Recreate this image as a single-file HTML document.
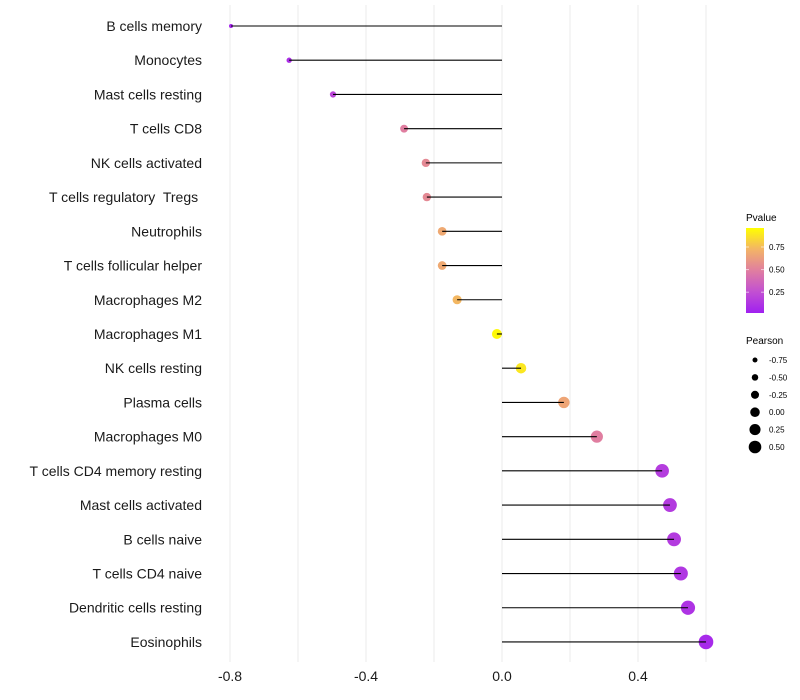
<!DOCTYPE html>
<html><head><meta charset="utf-8"><style>
html,body{margin:0;padding:0;background:#fff;}
svg{display:block;font-family:"Liberation Sans",sans-serif;}
text{white-space:pre;}
</style></head><body>
<svg id="chart" width="800" height="700" viewBox="0 0 800 700" xmlns="http://www.w3.org/2000/svg" xml:space="preserve">
<defs>
<linearGradient id="pg" x1="0" y1="1" x2="0" y2="0">
<stop offset="0" stop-color="#a020f0"/><stop offset="0.25" stop-color="#c250d2"/>
<stop offset="0.5" stop-color="#e07ea0"/><stop offset="0.75" stop-color="#f3b466"/>
<stop offset="1" stop-color="#ffff00"/></linearGradient>
</defs>
<g id="grid"></g>
<g id="ylabels"></g>
<g id="marks"></g>
<g id="xticks"></g>
<g>
<text x="746" y="221" font-size="10" fill="#000">Pvalue</text>
<rect x="746" y="228" width="18" height="85" fill="url(#pg)"/>
<g id="cbticks"></g>
</g>
<g id="sizeleg">
<text x="746" y="344" font-size="10" fill="#000">Pearson</text>
</g>
</svg>
<script>
const categories=["B cells memory","Monocytes","Mast cells resting","T cells CD8","NK cells activated","T cells regulatory  Tregs ","Neutrophils","T cells follicular helper","Macrophages M2","Macrophages M1","NK cells resting","Plasma cells","Macrophages M0","T cells CD4 memory resting","Mast cells activated","B cells naive","T cells CD4 naive","Dendritic cells resting","Eosinophils"];
const pearson=[-0.797,-0.626,-0.497,-0.288,-0.224,-0.221,-0.176,-0.176,-0.132,-0.015,0.056,0.182,0.279,0.471,0.494,0.506,0.526,0.547,0.600];
const pvalue=[0.03,0.08,0.2,0.5,0.55,0.55,0.7,0.7,0.76,0.98,0.92,0.68,0.5,0.15,0.14,0.14,0.12,0.1,0.05];
const xTicks=[-0.8,-0.4,0.0,0.4];
const xTickLabels=["-0.8","-0.4","0.0","0.4"];
const minorTicks=[-0.6,-0.2,0.2,0.6];
const cbTicks=[0.25,0.5,0.75];
const sizeLegend=[-0.75,-0.5,-0.25,0,0.25,0.5];
const sizeLegendLabels=["-0.75","-0.50","-0.25","0.00","0.25","0.50"];

const NS="http://www.w3.org/2000/svg";
const X=v=>502+v*340;
const Y=i=>26+i*34.22;
const R=v=>2+(v+0.8)/1.4*5.3;
const RL=v=>2.5+(v+0.75)/1.25*3.8;
const stops=[[0,[160,32,240]],[0.25,[194,80,210]],[0.5,[224,126,160]],[0.75,[243,180,102]],[1,[255,255,0]]];
function col(p){for(let i=1;i<stops.length;i++){if(p<=stops[i][0]){const a=stops[i-1],b=stops[i];const t=(p-a[0])/(b[0]-a[0]);const c=a[1].map((v,k)=>Math.round(v+(b[1][k]-v)*t));return `rgb(${c})`;}}return "rgb(255,255,0)";}
function mk(tag,attrs,parent){const e=document.createElementNS(NS,tag);for(const k in attrs)e.setAttribute(k,attrs[k]);parent.appendChild(e);return e;}
const grid=document.getElementById('grid');
xTicks.concat(minorTicks).forEach(v=>{
const l=mk('line',{x1:X(v),x2:X(v),y1:5,y2:662,stroke:'#ebebeb','stroke-width':1},grid);


});
const yl=document.getElementById('ylabels'),marks=document.getElementById('marks');
categories.forEach((c,i)=>{
const t=mk('text',{x:202,y:Y(i)+5,'text-anchor':'end','font-size':14,fill:'#1a1a1a'},yl);t.textContent=c;


const p=mk('circle',{cx:X(pearson[i]),cy:Y(i),r:R(pearson[i]),fill:col(pvalue[i])},marks);


});
categories.forEach((c,i)=>{
const l=mk('line',{x1:X(0),x2:X(pearson[i]),y1:Y(i),y2:Y(i),stroke:'#000','stroke-width':1.1},marks);


});
const xt=document.getElementById('xticks');
xTicks.forEach((v,i)=>{
const t=mk('text',{x:X(v),y:681,'text-anchor':'middle','font-size':14,fill:'#1a1a1a'},xt);t.textContent=xTickLabels[i];


});
const cb=document.getElementById('cbticks');
cbTicks.forEach(v=>{
const y=313-(v-0.02)/0.94*85;
mk('line',{x1:746,x2:749,y1:y,y2:y,stroke:'#fff','stroke-opacity':0.6},cb);
mk('line',{x1:761,x2:764,y1:y,y2:y,stroke:'#fff','stroke-opacity':0.6},cb);
const t=mk('text',{x:769,y:y+3,'font-size':8,fill:'#000'},cb);t.textContent=v.toFixed(2);


});
const sl=document.getElementById('sizeleg');
sizeLegend.forEach((v,i)=>{
const y=360+i*17.4;
const c=mk('circle',{cx:755,cy:y,r:RL(v),fill:'#000'},sl);


const t=mk('text',{x:769,y:y+3,'font-size':8,fill:'#000'},sl);t.textContent=sizeLegendLabels[i];


});
</script>
</body></html>
